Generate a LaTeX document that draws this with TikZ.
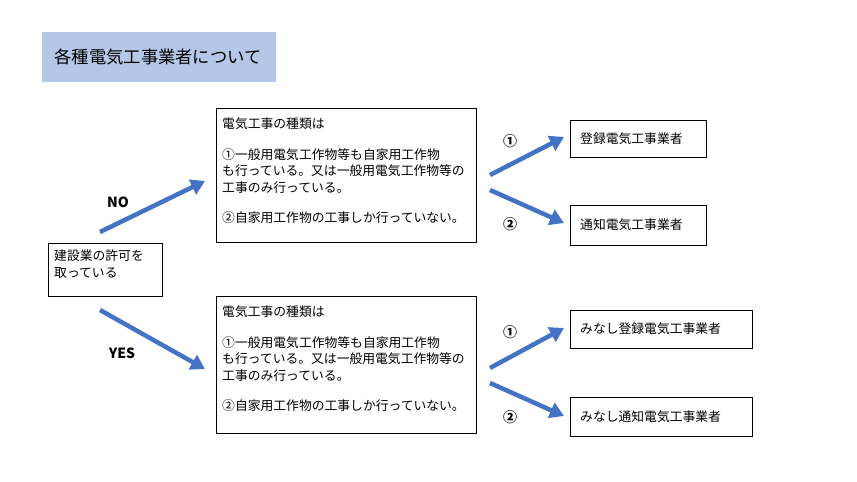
\documentclass[tikz,border=0pt]{standalone}
\usepackage{fontspec}
\setmainfont{Noto Sans CJK JP}
\usetikzlibrary{arrows.meta}
\definecolor{tb}{HTML}{B4C7E7}
\definecolor{ab}{HTML}{4472C4}
\tikzset{
 bx/.style={draw=black,line width=0.9pt,inner sep=0pt},
 ar/.style={draw=ab,line width=4.5pt,-{Triangle[length=14pt,width=16pt]}},
 txt/.style={font=\fontsize{12.8}{16.5}\selectfont,align=left,anchor=north west,inner sep=0pt},
 lb/.style={font=\fontsize{14}{16}\selectfont\bfseries}
}
\begin{document}
\begin{tikzpicture}[x=1pt,y=-1pt]
\useasboundingbox[fill=white] (0,0) rectangle (857,482);
\fill[tb] (42,32) rectangle (276,82);
\node[font=\fontsize{17.3}{20}\selectfont,anchor=west] (title) at (51,57) {各種電気工事業者について};
\draw[bx] (48,243) rectangle (162,296);
\node[txt] (left) at (54,250) {建設業の許可を\\取っている};
\draw[bx] (216,108) rectangle (476,242);
\node[txt] (up) at (222,118) {電気工事の種類は\\[14pt]①一般用電気工作物等も自家用工作物\\も行っている。又は一般用電気工作物等の\\工事のみ行っている。\\[14pt]②自家用工作物の工事しか行っていない。};
\draw[bx] (216,296) rectangle (476,433);
\node[txt] (lo) at (222,306) {電気工事の種類は\\[14pt]①一般用電気工作物等も自家用工作物\\も行っている。又は一般用電気工作物等の\\工事のみ行っている。\\[14pt]②自家用工作物の工事しか行っていない。};
\draw[bx] (570,120) rectangle (706,157);
\node[txt,anchor=west] (r1) at (580,138.5) {登録電気工事業者};
\draw[bx] (570,205) rectangle (706,245);
\node[txt,anchor=west] (r2) at (580,225) {通知電気工事業者};
\draw[bx] (570,310) rectangle (752,348);
\node[txt,anchor=west] (r3) at (580,329) {みなし登録電気工事業者};
\draw[bx] (570,397) rectangle (752,436);
\node[txt,anchor=west] (r4) at (580,416.5) {みなし通知電気工事業者};
\coordinate (a1) at (100,232); \coordinate (a2) at (205,181);
\coordinate (b1) at (100,310); \coordinate (b2) at (205,369);
\draw[ar] (a1) -- (a2);
\draw[ar] (b1) -- (b2);
\coordinate (c1) at (490,175); \coordinate (c2) at (564,137);
\coordinate (d1) at (490,190); \coordinate (d2) at (564,223);
\coordinate (e1) at (490,368); \coordinate (e2) at (564,328);
\coordinate (f1) at (490,383); \coordinate (f2) at (564,416);
\draw[ar] (c1) -- (c2); \draw[ar] (d1) -- (d2);
\draw[ar] (e1) -- (e2); \draw[ar] (f1) -- (f2);
\node[lb] (no) at (118,202) {NO};
\node[lb] (yes) at (122,353) {YES};
\node[lb] (n1) at (510,141) {①};
\node[lb] (n2) at (510,224) {②};
\node[lb] (n3) at (510,332) {①};
\node[lb] (n4) at (510,417) {②};
\end{tikzpicture}
\end{document}
